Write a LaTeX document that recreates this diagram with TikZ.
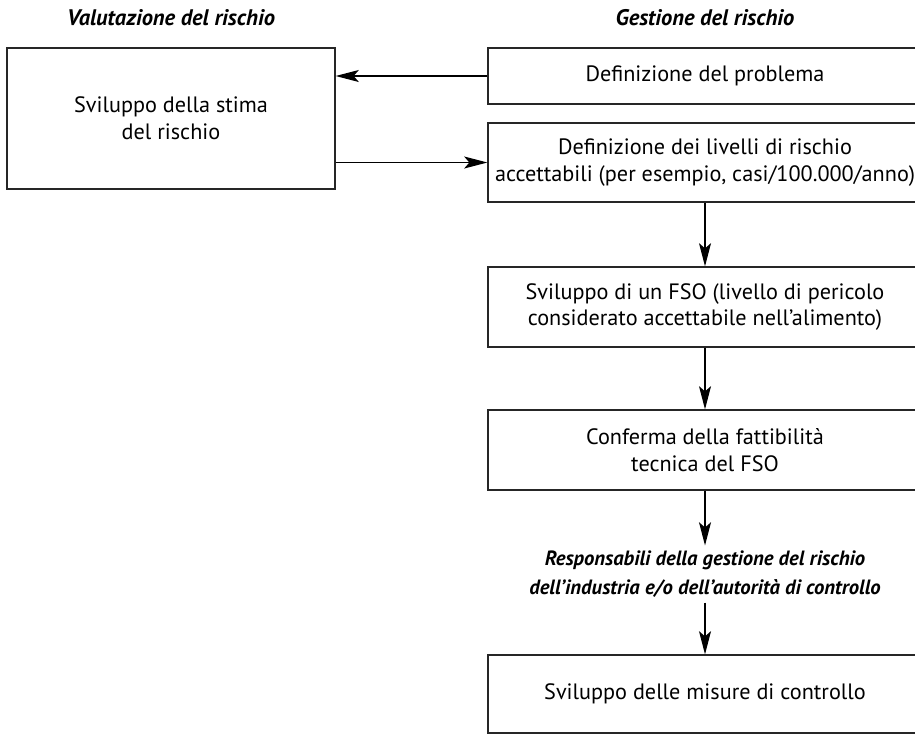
\documentclass[tikz,border=0pt]{standalone}
\usepackage{fontspec}
\setmainfont{PT Sans}
\usetikzlibrary{arrows.meta}

\begin{document}
\begin{tikzpicture}[font=\fontsize{15.8}{19}\selectfont]
                \useasboundingbox (0,0) rectangle (22.875,-18.35);

                % column headings
                \begin{scope}[every node/.style={font=\fontsize{16}{21}\selectfont\bfseries\itshape, align=center}]
                        \node (TVal) at (4.275,-0.45) {Valutazione del rischio};
                        \node (TGes) at (17.625,-0.45) {Gestione del rischio};
                        \node [font=\fontsize{14.7}{21}\selectfont\bfseries\itshape] (Resp) at (17.625,-14.35) {Responsabili della gestione del rischio\\dell'industria e/o dell'autorità di controllo};
                \end{scope}

                \begin{scope}[every node/.style={draw=black!85, line width=0.9pt, align=center, minimum width=10.85cm, minimum height=2cm}]
                        \node [minimum width=8.2cm, minimum height=3.525cm] (Stima) at (4.275,-2.9625) {Sviluppo della stima\\del rischio};
                        \node [minimum height=1.4cm] (Prob) at (17.625,-1.9) {Definizione del problema};
                        \node [minimum height=1.975cm] (Liv) at (17.625,-4.0625) {Definizione dei livelli di rischio\\accettabili (per esempio, casi/100.000/anno)};
                        \node (FSO) at (17.625,-7.675) {Sviluppo di un FSO (livello di pericolo\\considerato accettabile nell'alimento)};
                        \node (Conf) at (17.625,-11.25) {Conferma della fattibilità\\tecnica del FSO};
                        \node [minimum height=1.95cm] (Mis) at (17.625,-17.35) {Sviluppo delle misure di controllo};
                \end{scope}

                \begin{scope}[every path/.style={line width=0.9pt, -{Stealth[length=5.8mm, width=3mm, inset=1.3mm]}}]
                        \path (Prob.west) edge (Prob.west -| Stima.east);
                        \path (Liv.west -| Stima.east) edge (Liv.west);
                        \path (Liv) edge (FSO);
                        \path (FSO) edge (Conf);
                        \path (Conf) edge (Resp);
                        \path (Resp) edge (Mis);
                \end{scope}
        \end{tikzpicture}
\end{document}
